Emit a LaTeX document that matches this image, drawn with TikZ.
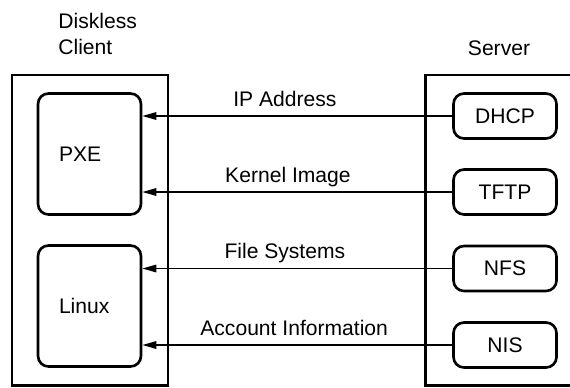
\documentclass[tikz,border=0pt]{standalone}
\usepackage{fontspec}
\setmainfont{Liberation Sans}
\usetikzlibrary{arrows.meta, positioning}

\begin{document}
\begin{tikzpicture}[x=0.2mm, y=-0.2mm,
    host/.style={draw, line width=1.7pt, minimum width=3.12cm, minimum height=6.2cm},
    part/.style={rounded corners=6pt, draw, line width=1.5pt, minimum width=2.06cm,
      font=\fontsize{12}{14}\selectfont},
    stage/.style={part, minimum height=2.42cm, text width=1.22cm, inner xsep=0.42cm, align=left},
    svc/.style={part, minimum height=0.9cm},
    msg/.style={font=\fontsize{12}{14}\selectfont, anchor=base, yshift=0.2cm},
    arrow/.style={-{Triangle[length=0.28cm, width=0.15cm]}, line width=0.9pt}
  ]
  \useasboundingbox (0,0) rectangle (570,387);

  % client side
  \node[host] (client) at (90,230) {};
  \node[anchor=north west, inner sep=0pt, align=left, font=\fontsize{12}{14.7}\selectfont] (clienttitle) at (58,13) {Diskless\\Client};
  \node[stage] (pxe) at (89.5,154) {PXE};
  \node[stage] (linux) at (89.5,306) {Linux};

  % server side
  \draw[line width=1.7pt] (570,75) -- (425,75) -- (425,385) -- (570,385);
  \node[anchor=base, inner sep=0pt, font=\fontsize{12}{14}\selectfont] (servertitle) at (499,55) {Server};
  \node[svc] (dhcp) at (505,116) {DHCP};
  \node[svc] (tftp) at (505,192) {TFTP};
  \node[svc] (nfs) at (505,268.5) {NFS};
  \node[svc] (nis) at (505,345) {NIS};

  \draw[arrow] (dhcp.west) -- node[msg, pos=.54] {IP Address} (dhcp.west -| pxe.east);
  \draw[arrow] (tftp.west) -- node[msg, pos=.53] {Kernel Image} (tftp.west -| pxe.east);
  \draw[arrow] (nfs.west) -- node[msg, pos=.54] {File Systems} (nfs.west -| linux.east);
  \draw[arrow] (nis.west) -- node[msg, pos=.51] {Account Information} (nis.west -| linux.east);
\end{tikzpicture}
\end{document}
